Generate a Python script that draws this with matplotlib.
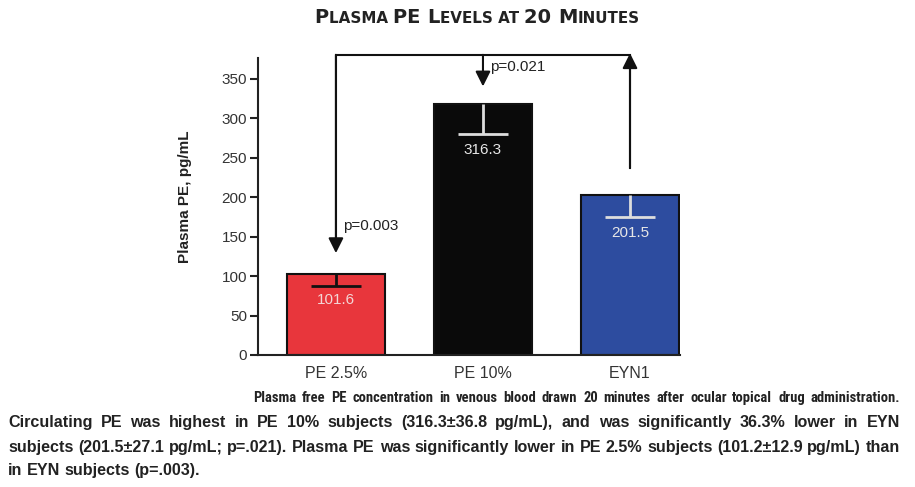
import matplotlib
matplotlib.use('Agg')
import matplotlib.pyplot as plt
from matplotlib.font_manager import fontManager

# ---------------- data ----------------
categories = ['PE 2.5%', 'PE 10%', 'EYN1']
bar_values = [103, 318, 202]
lower_errors = [16, 38, 27]
value_labels = ['101.6', '316.3', '201.5']
value_label_y = [70, 260, 155]
y_ticks = [0, 50, 100, 150, 200, 250, 300, 350]
bracket_y = 380
left_arrow_tip = 129
mid_arrow_tip = 340
right_arrow_start = 237
p_labels = ['p=0.003', 'p=0.021']
p_label_pos = [(0.05, 163), (1.05, 364)]

title_parts = [("P", 'big'), ("LASMA ", 'small'), ("PE ", 'big'), ("L", 'big'),
               ("EVELS AT ", 'small'), ("20 ", 'big'), ("M", 'big'), ("INUTES", 'small')]

caption_lines = [
    "Plasma free PE concentration in venous blood drawn 20 minutes after ocular topical drug administration.",
    "Circulating PE was highest in PE 10% subjects (316.3±36.8 pg/mL), and was significantly 36.3% lower in EYN",
    "subjects (201.5±27.1 pg/mL; p=.021). Plasma PE was significantly lower in PE 2.5% subjects (101.2±12.9 pg/mL) than",
    "in EYN subjects (p=.003).",
]

# ---------------- styling ----------------
names = {f.name for f in fontManager.ttflist}
narrow = 'Roboto Condensed' if 'Roboto Condensed' in names else 'Liberation Sans'
NARROW = [narrow, 'DejaVu Sans']
BODY = ['Liberation Sans', 'DejaVu Sans']
plt.rcParams['font.family'] = BODY

W, H = 915, 487
fig = plt.figure(figsize=(W / 100, H / 100), dpi=100)
ax = fig.add_axes([258 / W, 1 - 355 / H, (680 - 258) / W, (355 - 58) / H])

colors = ['#E8363C', '#0A0A0A', '#2D4C9F']
err_colors = ['#111111', '#DDDDDD', '#DDDDDD']
label_colors = ['#F3D6D6', '#E6E6E6', '#E6E6E6']
x = list(range(len(categories)))

ax.bar(x, bar_values, width=0.667, color=colors, edgecolor='#111111', linewidth=1.5, zorder=2)
cap_half = 0.17
for i in x:
    lo = bar_values[i] - lower_errors[i]
    ax.vlines(i, lo, bar_values[i], color=err_colors[i], lw=2, zorder=3)
    ax.hlines(lo, i - cap_half, i + cap_half, color=err_colors[i], lw=2, zorder=3)
    ax.text(i, value_label_y[i], value_labels[i], ha='center', va='center',
            color=label_colors[i], fontsize=11, zorder=4)

ax.set_xlim(-0.53, 2.34)
ax.set_ylim(0, 376)
ax.set_yticks(y_ticks)
ax.set_xticks(x)
ax.set_xticklabels(categories, fontsize=11.5, color='#333333')
ax.tick_params(axis='x', length=0, pad=8)
ax.tick_params(axis='y', length=6, width=1.5, pad=2, labelsize=11, labelcolor='#333333', color='#222222')
for s in ['top', 'right']:
    ax.spines[s].set_visible(False)
for s in ['left', 'bottom']:
    ax.spines[s].set_linewidth(1.5)
    ax.spines[s].set_color('#222222')

# bracket and arrows
ax.plot([0, 0, 2, 2], [left_arrow_tip + 5, bracket_y, bracket_y, right_arrow_start],
        color='#111111', lw=1.5, clip_on=False, solid_joinstyle='miter')
arrow_kw = dict(arrowstyle='-|>,head_length=0.9,head_width=0.45', mutation_scale=10,
                color='#111111', lw=1.5, shrinkA=0, shrinkB=0)
ax.annotate('', xy=(0, left_arrow_tip), xytext=(0, bracket_y), arrowprops=arrow_kw, annotation_clip=False)
ax.annotate('', xy=(1, mid_arrow_tip), xytext=(1, bracket_y), arrowprops=arrow_kw, annotation_clip=False)
ax.annotate('', xy=(2, bracket_y + 2), xytext=(2, right_arrow_start), arrowprops=arrow_kw, annotation_clip=False)
for lab, (px, py) in zip(p_labels, p_label_pos):
    ax.text(px, py, lab, ha='left', va='center', fontsize=11, color='#222222')

fig.text(185 / W, 1 - 197 / H, 'Plasma PE, pg/mL', rotation=90, ha='center', va='center',
         fontsize=11, fontweight='bold', color='#222222')

renderer = fig.canvas.get_renderer()

# title in small caps
TITLE_FONT = ['DejaVu Sans']
big_size, small_size = 14, 10.9
tparts = []
for s, k in title_parts:
    t = fig.text(0, 1 - 23 / H, s, fontsize=big_size if k == 'big' else small_size,
                 fontweight='bold', family=TITLE_FONT, color='#222222', ha='left', va='baseline')
    tparts.append(t)
widths = [t.get_window_extent(renderer).width for t in tparts]
xpos = 477 - sum(widths) / 2
for t, w in zip(tparts, widths):
    t.set_x(xpos / W)
    xpos += w

# caption, justified
def words_widths(words, size, fam):
    out = []
    for w in words:
        t = fig.text(0, 0, w, fontsize=size, fontweight='bold', family=fam)
        out.append(t.get_window_extent(renderer).width)
        t.remove()
    return out

def space_width(size, fam):
    a = fig.text(0, 0, 'a a', fontsize=size, fontweight='bold', family=fam)
    b = fig.text(0, 0, 'aa', fontsize=size, fontweight='bold', family=fam)
    r = a.get_window_extent(renderer).width - b.get_window_extent(renderer).width
    a.remove(); b.remove()
    return r

def fit_size(line, x0, fam, base=10.5):
    words = line.split()
    nat = sum(words_widths(words, base, fam)) + space_width(base, fam) * (len(words) - 1)
    return base * (900 - x0) / nat

starts = [253, 8, 8, 8]
baselines = [402, 427, 452, 475]
justify = [True, True, True, False]
fams = [NARROW, BODY, BODY, BODY]

size1 = min(fit_size(caption_lines[0], starts[0], NARROW), 10.5)
size2 = min(fit_size(caption_lines[1], 8, BODY), fit_size(caption_lines[2], 8, BODY))
sizes = [size1, size2, size2, size2]

for line, x0, yb, j, fam, sz in zip(caption_lines, starts, baselines, justify, fams, sizes):
    words = line.split()
    ws = words_widths(words, sz, fam)
    gap = (900 - x0 - sum(ws)) / (len(words) - 1) if j else space_width(sz, fam)
    xp = x0
    for w, ww in zip(words, ws):
        fig.text(xp / W, 1 - yb / H, w, fontsize=sz, fontweight='bold',
                 family=fam, color='#222222', ha='left', va='baseline')
        xp += ww + gap

fig.savefig('out.png', dpi=100)
